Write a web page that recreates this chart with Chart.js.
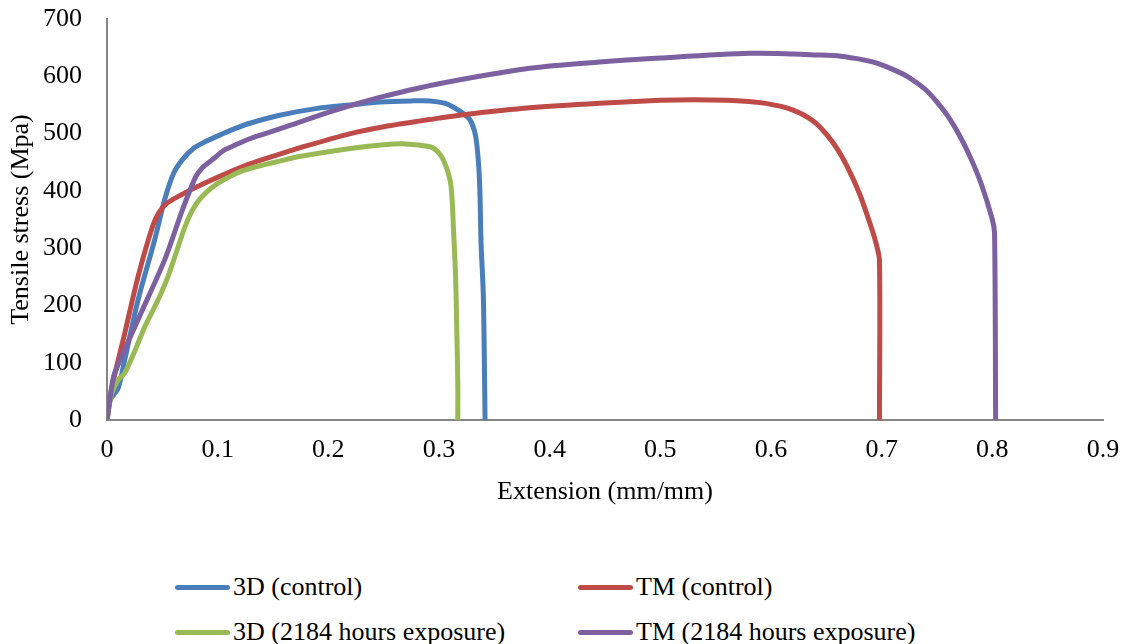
<!DOCTYPE html>
<html>
<head>
<meta charset="utf-8">
<script src="https://cdn.jsdelivr.net/npm/chart.js@4.4.1/dist/chart.umd.min.js"></script>
<style>
  html, body { margin: 0; padding: 0; background: #fff; }
  #wrap { position: relative; width: 1131px; height: 644px; }
  #chartBox { position: absolute; left: 0; top: 0; width: 1131px; height: 520px; }
  .leg { position: absolute; display: flex; align-items: center; font-family: 'Liberation Serif', 'Times New Roman', serif; font-size: 26px; color: #000; white-space: nowrap; }
  .leg span.sw { display: inline-block; width: 55px; height: 5px; border-radius: 3px; margin-right: 3px; }
</style>
</head>
<body>
<div id="wrap">
  <div id="chartBox"><canvas id="tensileChart"></canvas></div>
  <div id="legend"></div>
</div>
<script>
// Series labels and colours
const seriesNames = ['3D (control)', 'TM (control)', '3D (2184 hours exposure)', 'TM (2184 hours exposure)'];
const seriesColors = ['#4a7ebb', '#be4b48', '#98b954', '#7d60a0'];

// 3D (control)
const x3dControl = [0, 0.003, 0.01, 0.016, 0.028, 0.043, 0.052, 0.06, 0.068, 0.078, 0.089, 0.105, 0.116, 0.129, 0.156, 0.19, 0.22, 0.247, 0.275, 0.292, 0.305, 0.313, 0.322, 0.328, 0.332, 0.334, 0.336, 0.337, 0.338, 0.340, 0.341, 0.3416];
const y3dControl = [0, 35, 55, 105, 209, 314, 384, 430, 454, 474, 486, 500, 509, 518, 532, 544, 550, 555, 557, 557, 553, 546, 535, 524, 505, 484, 440, 396, 309, 221, 100, 0];

// TM (control)
const xTmControl = [0, 0.0045, 0.016, 0.028, 0.041, 0.047, 0.054, 0.064, 0.089, 0.116, 0.129, 0.156, 0.174, 0.22, 0.25, 0.3, 0.322, 0.382, 0.445, 0.5, 0.53, 0.56, 0.58, 0.59, 0.60, 0.61, 0.62, 0.63, 0.64, 0.65, 0.66, 0.67, 0.68, 0.69, 0.695, 0.698, 0.698];
const yTmControl = [0, 58, 151, 250, 337, 362, 378, 390, 414, 437, 447, 464, 475, 500, 512, 527, 533, 545, 553, 558, 559, 558, 556, 554, 551, 547, 541, 532, 519, 499, 473, 438, 395, 340, 308, 279, 0];

// 3D (2184 hours exposure)
const x3dExposed = [0, 0.004, 0.010, 0.016, 0.025, 0.034, 0.045, 0.055, 0.063, 0.07, 0.076, 0.082, 0.089, 0.1, 0.116, 0.129, 0.156, 0.174, 0.22, 0.247, 0.27, 0.292, 0.298, 0.304, 0.31, 0.312, 0.313, 0.315, 0.316, 0.317, 0.317];
const y3dExposed = [0, 45, 70, 82, 120, 162, 205, 250, 295, 335, 362, 381, 396, 413, 430, 439, 452, 460, 474, 480, 482, 477, 470, 454, 419, 380, 337, 250, 163, 60, 0];

// TM (2184 hours exposure)
const xTmExposed = [0, 0.004, 0.007, 0.028, 0.052, 0.068, 0.080, 0.086, 0.095, 0.105, 0.116, 0.129, 0.156, 0.174, 0.2, 0.22, 0.25, 0.3, 0.382, 0.445, 0.5, 0.581, 0.62, 0.645, 0.66, 0.68, 0.69, 0.70, 0.71, 0.72, 0.73, 0.74, 0.75, 0.76, 0.77, 0.78, 0.79, 0.80, 0.802, 0.803];
const yTmExposed = [0, 55, 82, 175, 279, 366, 424, 440, 454, 470, 480, 491, 508, 520, 537, 549, 565, 587, 614, 625, 632, 640, 639, 637, 636, 630, 626, 620, 612, 603, 591, 576, 555, 530, 498, 459, 412, 350, 326, 0];

// Axis ticks
const xTicks = [0, 0.1, 0.2, 0.3, 0.4, 0.5, 0.6, 0.7, 0.8, 0.9];
const yTicks = [0, 100, 200, 300, 400, 500, 600, 700];

const serifFont = { family: "'Liberation Serif', 'Times New Roman', serif", size: 26 };

function toPoints(xs, ys) {
    return xs.map((x, i) => ({ x: x, y: ys[i] }));
}

const allX = [x3dControl, xTmControl, x3dExposed, xTmExposed];
const allY = [y3dControl, yTmControl, y3dExposed, yTmExposed];

const datasets = seriesNames.map((name, i) => ({
    label: name,
    data: toPoints(allX[i], allY[i]),
    borderColor: seriesColors[i],
    backgroundColor: seriesColors[i],
    borderWidth: 5,
    showLine: true,
    pointRadius: 0,
    tension: 0.3,
    borderCapStyle: 'round',
    borderJoinStyle: 'round',
    order: 4 - i // later series on top, like the original
}));

new Chart(document.getElementById('tensileChart'), {
    type: 'scatter',
    data: { datasets: datasets },
    options: {
        responsive: true,
        maintainAspectRatio: false,
        animation: false,
        layout: { padding: { top: 19, right: 28, left: 0, bottom: 0 } },
        plugins: {
            legend: { display: false },
            tooltip: { enabled: false }
        },
        scales: {
            x: {
                type: 'linear',
                min: 0,
                max: 0.9,
                afterBuildTicks: (scale) => { scale.ticks = xTicks.map(v => ({ value: v })); },
                afterFit: (scale) => {
                    scale.height = 100;
                    scale.paddingLeft = 0;
                    scale.paddingRight = 0;
                },
                grid: { display: false, drawTicks: false },
                border: { display: true, color: '#868686', width: 2 },
                ticks: { color: '#000', font: serifFont, padding: 15, maxRotation: 0,
                         callback: (v) => String(Math.round(v * 10) / 10) },
                title: { display: true, text: 'Extension (mm/mm)', color: '#000', font: serifFont, padding: { top: 0, bottom: 12 } }
            },
            y: {
                min: 0,
                max: 700,
                afterBuildTicks: (scale) => { scale.ticks = yTicks.map(v => ({ value: v })); },
                afterFit: (scale) => {
                    scale.width = 107;
                    // labels sit 25px left of the axis; keep that gap out of the vertical padding
                    scale.paddingTop = 0;
                    scale.paddingBottom = 0;
                },
                grid: { display: false, drawTicks: false },
                border: { display: true, color: '#868686', width: 2 },
                ticks: { color: '#000', font: serifFont, padding: 25 },
                title: { display: true, text: 'Tensile stress (Mpa)', color: '#000', font: serifFont, padding: { top: 6, bottom: 0 } }
            }
        }
    }
});

// Two-column legend under the chart, in the original's row order
const legendPos = [[175, 587], [578, 587], [175, 632], [578, 632]];
const legendEl = document.getElementById('legend');
seriesNames.forEach((name, i) => {
    const item = document.createElement('div');
    item.className = 'leg';
    item.style.left = legendPos[i][0] + 'px';
    item.style.top = (legendPos[i][1] - 16) + 'px';
    item.style.height = '32px';
    item.innerHTML = `<span class="sw" style="background:${seriesColors[i]}"></span>${name}`;
    legendEl.appendChild(item);
});
</script>
</body>
</html>
